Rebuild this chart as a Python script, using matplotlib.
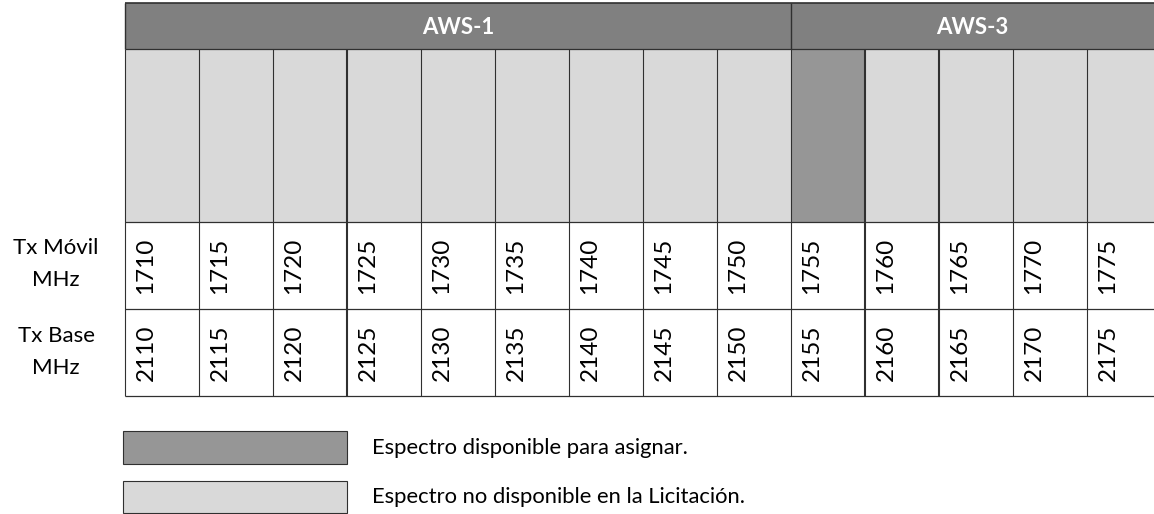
import matplotlib
matplotlib.use("Agg")
import matplotlib.pyplot as plt
from matplotlib.patches import Rectangle

# ---- data ----
tx_movil = [1710, 1715, 1720, 1725, 1730, 1735, 1740, 1745, 1750, 1755, 1760, 1765, 1770, 1775]
tx_base = [2110, 2115, 2120, 2125, 2130, 2135, 2140, 2145, 2150, 2155, 2160, 2165, 2170, 2175]
disponible = [0, 0, 0, 0, 0, 0, 0, 0, 0, 1, 0, 0, 0, 0]
bands = ["AWS-1", "AWS-3"]
band_start = [1710, 1755]
band_end = [1755, 1780]
row_labels = ["Tx Móvil\nMHz", "Tx Base\nMHz"]
legend_labels = ["Espectro disponible para asignar.", "Espectro no disponible en la Licitación."]

# ---- style ----
plt.rcParams['font.family'] = ['Lato', 'DejaVu Sans']
C_HEAD = "#808080"
C_AVAIL = "#969696"
C_NOT = "#d9d9d9"
C_LINE = "#303030"
thick_edges = [1725, 1760, 1765]
BW = 5.0

fig = plt.figure(figsize=(11.54, 5.14), dpi=100)
ax = fig.add_axes([0, 0, 1, 1])
px_per_mhz = 74 / BW
x0 = tx_movil[0] - 125 / px_per_mhz
x1 = tx_movil[0] + (1154 - 125) / px_per_mhz
ax.set_xlim(x0, x1)
ax.set_ylim(514, 0)
ax.axis("off")

Y_HEAD0, Y_HEAD1 = 3, 49
Y_CELL1 = 222
Y_R1 = 309
Y_R2 = 396

# header fills
for name, s, e in zip(bands, band_start, band_end):
    ax.add_patch(Rectangle((s, Y_HEAD0), e - s, Y_HEAD1 - Y_HEAD0, facecolor=C_HEAD,
                           edgecolor="none"))
    xc = (s + min(e, x1)) / 2
    ax.text(xc, (Y_HEAD0 + Y_HEAD1) / 2 + 1, name, color="white", fontsize=16,
            fontweight="bold", ha="center", va="center")
    ax.vlines(s, Y_HEAD0, Y_HEAD1, colors=C_LINE, linewidth=1.0)

# cells
for f, fb, av in zip(tx_movil, tx_base, disponible):
    ax.add_patch(Rectangle((f, Y_HEAD1), BW, Y_CELL1 - Y_HEAD1,
                           facecolor=C_AVAIL if av else C_NOT, edgecolor="none"))
    ax.add_patch(Rectangle((f, Y_CELL1), BW, Y_R2 - Y_CELL1, facecolor="white",
                           edgecolor="none"))
    lw = 1.5 if f in thick_edges else 0.8
    ax.vlines(f, Y_HEAD1, Y_R2, colors=C_LINE, linewidth=lw)
    xt = f + 21 / px_per_mhz
    ax.text(xt, (Y_CELL1 + Y_R1) / 2, str(f), rotation=90, fontsize=17.5,
            ha="center", va="center", color="black")
    ax.text(xt, (Y_R1 + Y_R2) / 2, str(fb), rotation=90, fontsize=17.5,
            ha="center", va="center", color="black")

ax.hlines([Y_HEAD0], tx_movil[0], x1, colors=C_LINE, linewidth=1.2)
ax.hlines([Y_HEAD1, Y_CELL1, Y_R1, Y_R2], tx_movil[0], x1, colors=C_LINE, linewidth=0.9)

# overlay axes in pixel coordinates for labels and legend
ax2 = fig.add_axes([0, 0, 1, 1])
ax2.set_xlim(0, 1154)
ax2.set_ylim(514, 0)
ax2.axis("off")
ax2.patch.set_alpha(0)

for lab, yc in zip(row_labels, [(Y_CELL1 + Y_R1) / 2 - 1, (Y_R1 + Y_R2) / 2]):
    ax2.text(56, yc, lab, fontsize=16, ha="center", va="center", linespacing=1.75)

leg_colors = [C_AVAIL, C_NOT]
for lab, col, (yb0, yb1) in zip(legend_labels, leg_colors, [(431, 464), (481, 513)]):
    ax2.add_patch(Rectangle((123, yb0), 224, yb1 - yb0, facecolor=col,
                            edgecolor=C_LINE, linewidth=0.8))
    ax2.text(372, (yb0 + yb1) / 2, lab, fontsize=15.8, ha="left", va="center")

fig.savefig("out.png", dpi=100)
